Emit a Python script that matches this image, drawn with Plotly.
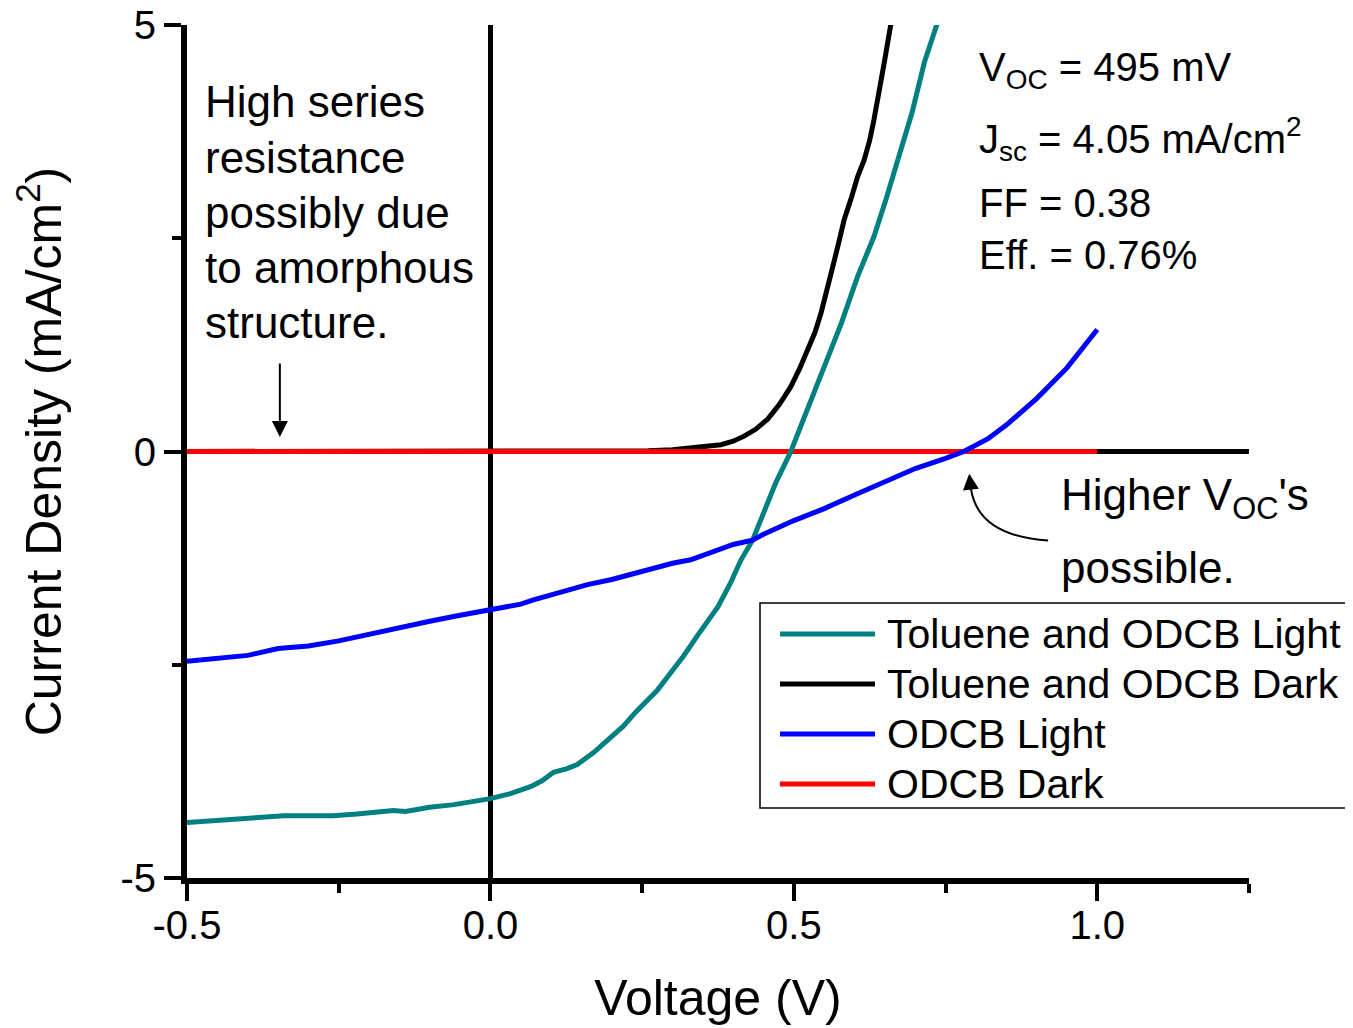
import plotly.graph_objects as go

# ---------------- data ----------------
series_names = ["Toluene and ODCB Light", "Toluene and ODCB Dark", "ODCB Light", "ODCB Dark"]
series_colors = ["#008080", "#000000", "#0000FF", "#FF0000"]

tol_light_v = [-0.50, -0.46, -0.42, -0.38, -0.34, -0.30, -0.26, -0.22, -0.18, -0.16, -0.14,
               -0.10, -0.06, -0.02, 0.00, 0.033, 0.066, 0.085, 0.104, 0.125, 0.143, 0.170,
               0.195, 0.219, 0.240, 0.259, 0.275, 0.292, 0.318, 0.342, 0.360, 0.375, 0.395,
               0.413, 0.432, 0.45, 0.47, 0.495, 0.52, 0.55, 0.578, 0.605, 0.632, 0.652,
               0.672, 0.695, 0.715, 0.740]
tol_light_j = [-4.35, -4.33, -4.32, -4.30, -4.27, -4.27, -4.27, -4.25, -4.22, -4.21, -4.22,
               -4.17, -4.14, -4.10, -4.07, -4.01, -3.93, -3.86, -3.76, -3.72, -3.67, -3.53,
               -3.38, -3.22, -3.05, -2.91, -2.80, -2.64, -2.40, -2.15, -1.98, -1.82, -1.55,
               -1.27, -1.04, -0.72, -0.37, 0.00, 0.45, 0.96, 1.50, 2.05, 2.52, 2.96,
               3.42, 3.98, 4.56, 5.10]

tol_dark_v = [-0.50, -0.25, 0.00, 0.20, 0.26, 0.30, 0.33, 0.36, 0.38, 0.40, 0.418, 0.437,
              0.457, 0.476, 0.495, 0.51, 0.523, 0.535, 0.545, 0.556, 0.566, 0.575, 0.583,
              0.595, 0.605, 0.616, 0.625, 0.632, 0.641, 0.649, 0.662]
tol_dark_j = [0.00, 0.00, 0.00, 0.00, 0.01, 0.02, 0.04, 0.06, 0.08, 0.12, 0.18, 0.26,
              0.38, 0.55, 0.76, 0.98, 1.19, 1.40, 1.63, 1.92, 2.22, 2.48, 2.72,
              2.98, 3.22, 3.42, 3.65, 3.89, 4.22, 4.56, 5.10]

odcb_light_v = [-0.50, -0.45, -0.40, -0.35, -0.30, -0.25, -0.20, -0.15, -0.10, -0.05, 0.00,
                0.05, 0.071, 0.10, 0.160, 0.20, 0.248, 0.30, 0.33, 0.37, 0.40, 0.432, 0.45,
                0.50, 0.55, 0.60, 0.65, 0.70, 0.75, 0.78, 0.82, 0.85, 0.90, 0.95, 1.00]
odcb_light_j = [-2.46, -2.42, -2.39, -2.31, -2.28, -2.22, -2.14, -2.07, -1.99, -1.92, -1.85,
                -1.79, -1.74, -1.68, -1.56, -1.50, -1.41, -1.31, -1.27, -1.16, -1.09, -1.04, -0.97,
                -0.81, -0.67, -0.51, -0.36, -0.20, -0.08, 0.00, 0.15, 0.31, 0.62, 0.98, 1.43]

odcb_dark_v = [-0.50, -0.25, 0.00, 0.25, 0.50, 0.75, 1.00]
odcb_dark_j = [0.00, 0.00, 0.00, 0.00, 0.00, 0.00, 0.00]

x_tickvals = [-0.5, 0.0, 0.5, 1.0]
x_ticktext = ["-0.5", "0.0", "0.5", "1.0"]
x_minor = [-0.25, 0.25, 0.75, 1.25]
y_tickvals = [-5, 0, 5]
y_ticktext = ["-5", "0", "5"]
y_minor = [-2.5, 2.5]

stats_lines = ["V<sub>OC</sub> = 495 mV", "J<sub>sc</sub> = 4.05 mA/cm<sup>2</sup>",
               "FF = 0.38", "Eff. = 0.76%"]
note_lines = ["High series", "resistance", "possibly due", "to amorphous", "structure."]
voc_lines = ["Higher V<sub>OC</sub>'s", "possible."]

# ---------------- layout geometry ----------------
OFF = 8                      # page body margin of the html page
W, H = 1353 - OFF, 1028 - OFF
L, R, T, B = 187, 1249, 25, 878   # plot area in window pixels
FONT = "Arial, Liberation Sans, sans-serif"


def px(x):
    return (x - L) / (R - L)


def py(y):
    return (B - y) / (B - T)


fig = go.Figure()
order = [1, 3, 0, 2]
data = [(tol_light_v, tol_light_j), (tol_dark_v, tol_dark_j),
        (odcb_light_v, odcb_light_j), (odcb_dark_v, odcb_dark_j)]
for i in order:
    xv, yv = data[i]
    fig.add_trace(go.Scatter(x=xv, y=yv, mode="lines", name=series_names[i],
                             line=dict(color=series_colors[i], width=5),
                             showlegend=False))

fig.update_layout(
    width=W, height=H,
    margin=dict(l=L - OFF, r=W - (R - OFF), t=T - OFF, b=H - (B - OFF)),
    paper_bgcolor="white", plot_bgcolor="white",
    font=dict(family=FONT, color="black"),
    showlegend=False,
)
fig.update_xaxes(
    range=[-0.5, 1.25], showgrid=False, automargin=False,
    showline=True, linewidth=6, linecolor="black",
    zeroline=True, zerolinewidth=5, zerolinecolor="black",
    tickmode="array", tickvals=x_tickvals, ticktext=x_ticktext,
    ticks="outside", ticklen=17, tickwidth=4, tickcolor="black",
    tickfont=dict(size=40, family=FONT), ticklabelstandoff=-10,
    ticklabeloverflow="allow",
    minor=dict(tickmode="array", tickvals=x_minor, ticks="outside", ticklen=9,
               tickwidth=4, tickcolor="black", showgrid=False),
    title=dict(text="Voltage (V)", font=dict(size=50, family=FONT), standoff=36),
)
fig.update_yaxes(
    range=[-5, 5], showgrid=False, automargin=False,
    showline=True, linewidth=6, linecolor="black",
    zeroline=True, zerolinewidth=5, zerolinecolor="black",
    tickmode="array", tickvals=y_tickvals, ticktext=y_ticktext,
    ticks="outside", ticklen=17, tickwidth=4, tickcolor="black",
    tickfont=dict(size=40, family=FONT), ticklabeloverflow="allow",
    minor=dict(tickmode="array", tickvals=y_minor, ticks="outside", ticklen=9,
               tickwidth=4, tickcolor="black", showgrid=False),
    title=dict(text="Current Density (mA/cm<sup>2</sup>)", font=dict(size=50, family=FONT),
               standoff=50),
)

ann = []
# left note
for t, yy in zip(note_lines, [102, 157, 212, 267, 322]):
    ann.append(dict(xref="paper", yref="paper", x=px(203), y=py(yy), text=t,
                    showarrow=False, xanchor="left", yanchor="middle",
                    font=dict(size=44, family=FONT)))
# stats
for t, yy in zip(stats_lines, [70, 139, 203, 255]):
    ann.append(dict(xref="paper", yref="paper", x=px(977), y=py(yy), text=t,
                    showarrow=False, xanchor="left", yanchor="middle",
                    font=dict(size=40, family=FONT)))
# higher voc note
for t, yy in zip(voc_lines, [498, 567]):
    ann.append(dict(xref="paper", yref="paper", x=px(1059), y=py(yy), text=t,
                    showarrow=False, xanchor="left", yanchor="middle",
                    font=dict(size=44, family=FONT)))
# straight arrow
ann.append(dict(xref="x", yref="y", axref="x", ayref="y",
                x=-0.347, y=0.17, ax=-0.347, ay=1.05, text="",
                showarrow=True, arrowhead=2, arrowsize=1.6, arrowwidth=2,
                arrowcolor="black", standoff=0))
# curved arrow head
ann.append(dict(xref="x", yref="y", axref="x", ayref="y",
                x=0.789, y=-0.26, ax=0.792, ay=-0.46, text="",
                showarrow=True, arrowhead=2, arrowsize=1.6, arrowwidth=2,
                arrowcolor="black", standoff=0))

shapes = [
    dict(type="path", xref="x", yref="y",
         path="M 0.919,-1.043 C 0.842,-1.008 0.800,-0.797 0.792,-0.445",
         line=dict(color="black", width=2)),
    # legend box
    dict(type="rect", xref="paper", yref="paper", x0=px(760), x1=px(1370),
         y0=py(808), y1=py(603), line=dict(color="black", width=1.5),
         fillcolor="white", layer="above"),
]
leg_y = [634, 684, 734, 784]
for nm, col, yy in zip(series_names, series_colors, leg_y):
    shapes.append(dict(type="line", xref="paper", yref="paper",
                       x0=px(780), x1=px(875), y0=py(yy), y1=py(yy),
                       line=dict(color=col, width=5), layer="above"))
    ann.append(dict(xref="paper", yref="paper", x=px(885), y=py(yy), text=nm,
                    showarrow=False, xanchor="left", yanchor="middle",
                    font=dict(size=41, family=FONT)))

fig.update_layout(annotations=ann, shapes=shapes)
fig.write_html("out.html")
